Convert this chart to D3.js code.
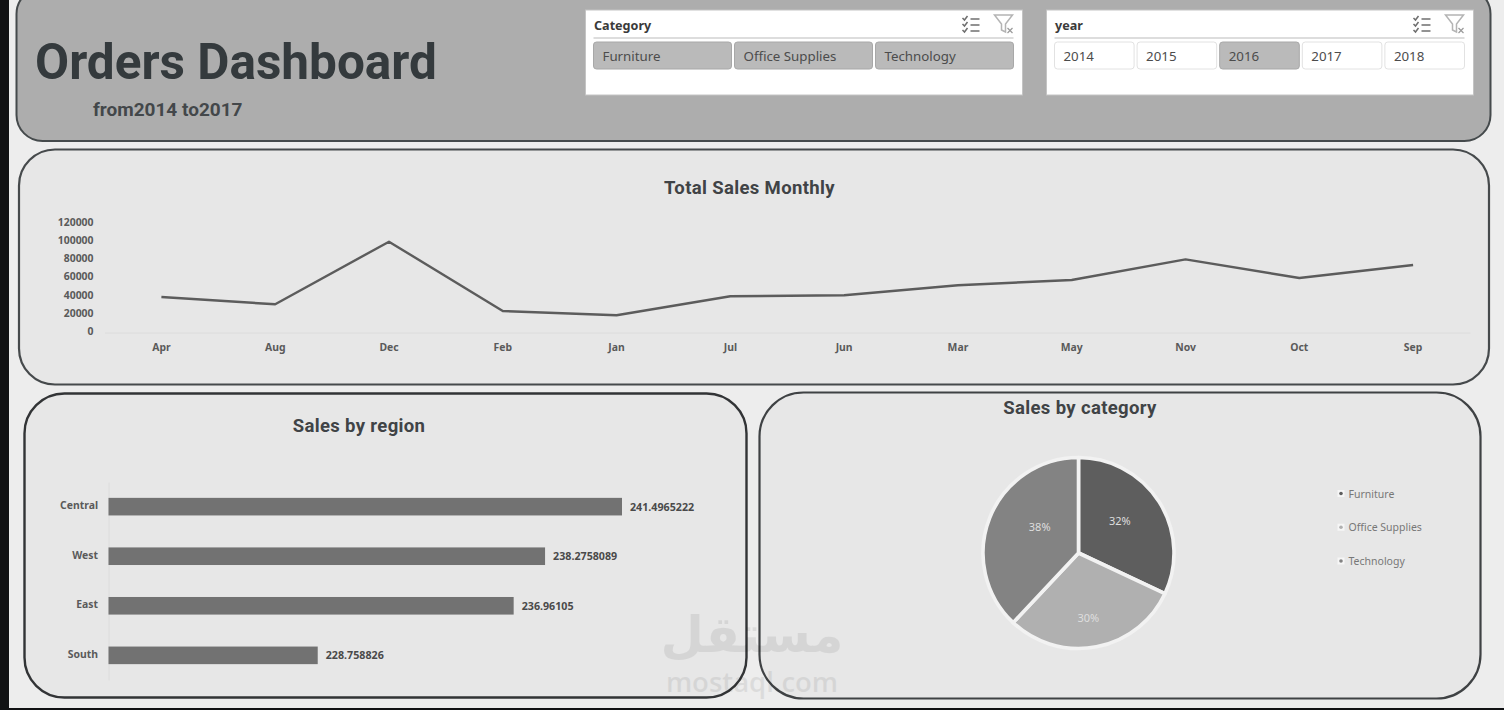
<!DOCTYPE html>
<html>
<head>
<meta charset="utf-8">
<title>Orders Dashboard</title>
<script src="https://cdn.jsdelivr.net/npm/d3@7/dist/d3.min.js"></script>
<style>
  html, body { margin: 0; padding: 0; background: #111214; overflow: hidden; }
  svg { display: block; }
  text { font-family: "Noto Sans", sans-serif; }
  .axis text { font-family: "Noto Sans", sans-serif; font-weight: 700; font-size: 10.4px; fill: #5a5a5a; }
  .chart-title { font-family: Roboto, sans-serif; font-weight: 700; font-size: 18.5px; fill: #404346; text-anchor: middle; dominant-baseline: central; letter-spacing: .35px; }
</style>
</head>
<body>
<svg id="dash" width="1504" height="710"></svg>
<script>
// Slicer contents
const categoryOptions = ["Furniture", "Office Supplies", "Technology"];
const yearOptions = ["2014", "2015", "2016", "2017", "2018"];
const selectedYears = ["2016"];

// Monthly sales, in the alphabetical month order the pivot produced
const months = ["Apr", "Aug", "Dec", "Feb", "Jan", "Jul", "Jun", "Mar", "May", "Nov", "Oct", "Sep"];
const monthlySales = [39000, 31000, 99800, 23600, 18900, 39800, 40900, 52000, 57700, 80400, 59900, 74200];
const salesTicks = [0, 20000, 40000, 60000, 80000, 100000, 120000];

// Sales by region
const regions = ["Central", "West", "East", "South"];
const regionSales = [241.4965222, 238.2758089, 236.96105, 228.758826];
const regionAxisStart = 220;
const regionLabels = ["241.4965222", "238.2758089", "236.96105", "228.758826"];

// Share of sales by category
const categories = ["Furniture", "Office Supplies", "Technology"];
const categoryShare = [32, 30, 38];
const categoryColors = ["#5e5e5e", "#b0b0b0", "#838383"];

const svg = d3.select("#dash");

// Page backdrop: pale sheet inside the dark window frame
svg.append("rect").attr("x", 9).attr("y", 0).attr("width", 1495).attr("height", 708).attr("fill", "#ededed");

function panel(x, y, w, h, r, fill, stroke, sw) {
  svg.append("rect").attr("x", x).attr("y", y).attr("width", w).attr("height", h)
    .attr("rx", r).attr("ry", r).attr("fill", fill).attr("stroke", stroke).attr("stroke-width", sw);
}
panel(16.5, -12, 1474, 153, 26, "#adadad", "#454a4c", 2);
panel(19, 149.5, 1470, 235, 36, "#e7e7e7", "#464a4c", 2.2);
panel(24.5, 393.5, 722, 304, 40, "#e7e7e7", "#323436", 2.4);
panel(759.5, 392.5, 721, 306, 44, "#e7e7e7", "#3f4244", 2.2);

// Header text
svg.append("text").attr("x", 35).attr("y", 79).attr("font-size", 49.5).attr("font-weight", 700)
  .style("font-family", "Roboto").attr("fill", "#343a3d").text("Orders Dashboard");
svg.append("text").attr("x", 93).attr("y", 115.5).attr("font-size", 19).attr("font-weight", 700)
  .style("font-family", "Roboto").attr("fill", "#43474a").text("from2014 to2017");

// Slicer widgets
function slicer(x, w, title, options, isOn) {
  const g = svg.append("g");
  g.append("rect").attr("x", x).attr("y", 10).attr("width", w).attr("height", 85).attr("fill", "#ffffff")
    .attr("stroke", "#c4c4c4").attr("stroke-width", 1);
  g.append("text").attr("x", x + 8.5).attr("y", 29.5).attr("font-size", 12.6).attr("font-weight", 700)
    .attr("fill", "#3a3a3a").text(title);
  g.append("line").attr("x1", x + 8).attr("x2", x + w - 9).attr("y1", 38).attr("y2", 38)
    .attr("stroke", "#d2d2d2").attr("stroke-width", 1.5);

  const step = (w - 17 + 3) / options.length;
  const btn = g.selectAll("g.btn").data(options).join("g").attr("class", "btn")
    .attr("transform", (d, i) => `translate(${x + 8 + i * step},42)`);
  btn.append("rect").attr("width", step - 3).attr("height", 27).attr("rx", 3)
    .attr("fill", d => isOn(d) ? "#bababa" : "#ffffff")
    .attr("stroke", d => isOn(d) ? "#a8a8a8" : "#e2e2e2").attr("stroke-width", 1);
  btn.append("text").attr("x", 9).attr("y", 19).attr("font-size", 13.3).attr("fill", "#4c4c4c").text(d => d);

  // Multi-select and clear-filter icons
  const ix = x + w - 60, iy = 16;
  const icon = g.append("g").attr("transform", `translate(${ix},${iy})`)
    .attr("fill", "none").attr("stroke", "#6e6e6e").attr("stroke-width", 1.5);
  [2, 8, 14].forEach(y => {
    icon.append("path").attr("d", `M0 ${y}l2 2l3 -4`);
    icon.append("line").attr("x1", 8).attr("x2", 17).attr("y1", y + 1).attr("y2", y + 1);
  });
  const clear = g.append("g").attr("transform", `translate(${ix + 32},${iy - 1})`).attr("fill", "none");
  clear.append("path").attr("d", "M0 0H18L11 9V17L7 15V9Z").attr("stroke", "#b4b4b4").attr("stroke-width", 1.5);
  clear.append("path").attr("d", "M13 13l5 5M18 13l-5 5").attr("stroke", "#9a9a9a").attr("stroke-width", 1.2);
}
slicer(585.5, 437, "Category", categoryOptions, () => true);
slicer(1046.5, 427, "year", yearOptions, d => selectedYears.includes(d));

// Total Sales Monthly: line over a category axis
const xMonth = d3.scaleBand().domain(months).range([104.5, 1470]);
const ySales = d3.scaleLinear().domain([0, 120000]).range([332.5, 223.3]);

svg.append("text").attr("class", "chart-title").attr("x", 749.5).attr("y", 188).text("Total Sales Monthly");

svg.append("g").attr("class", "axis").attr("transform", "translate(0,332.5)")
  .call(d3.axisBottom(xMonth).tickSize(0).tickPadding(11))
  .call(g => g.select(".domain").attr("stroke", "#dcdcdc"));
svg.append("g").attr("class", "axis").attr("transform", "translate(104.5,0)")
  .call(d3.axisLeft(ySales).tickValues(salesTicks).tickFormat(d3.format("d")).tickSize(0).tickPadding(11))
  .call(g => g.select(".domain").remove())
  .call(g => g.selectAll("text").attr("dy", "0.2em"));

const salesLine = d3.line()
  .x((d, i) => xMonth(months[i]) + xMonth.bandwidth() / 2)
  .y(d => ySales(d));
svg.append("path").datum(monthlySales).attr("d", salesLine)
  .attr("fill", "none").attr("stroke", "#5c5c5c").attr("stroke-width", 2.4).attr("stroke-linejoin", "round");

// Sales by region: horizontal bars on a truncated axis
const yRegion = d3.scaleBand().domain(regions).range([482, 680]).paddingInner(0.645).paddingOuter(0.32);
const xRegion = d3.scaleLinear().domain([regionAxisStart, regionSales[0]]).range([108.5, 622]);

svg.append("text").attr("class", "chart-title").attr("x", 359).attr("y", 426).text("Sales by region");

svg.append("g").attr("class", "axis").attr("transform", "translate(108.5,0)")
  .call(d3.axisLeft(yRegion).tickSize(0).tickPadding(10.5))
  .call(g => g.select(".domain").attr("stroke", "#dcdcdc"))
  .call(g => g.selectAll("text").attr("dy", "0.22em"));

svg.selectAll("rect.bar").data(regionSales).join("rect").attr("class", "bar")
  .attr("x", xRegion(regionAxisStart))
  .attr("y", (d, i) => yRegion(regions[i]))
  .attr("width", d => xRegion(d) - xRegion(regionAxisStart))
  .attr("height", yRegion.bandwidth())
  .attr("fill", "#727272");

svg.selectAll("text.bar-label").data(regionSales).join("text").attr("class", "bar-label")
  .attr("x", d => xRegion(d) + 8)
  .attr("y", (d, i) => yRegion(regions[i]) + yRegion.bandwidth() / 2)
  .attr("dominant-baseline", "central")
  .attr("font-size", 10.7).attr("font-weight", 700).attr("fill", "#4a4a4a")
  .text((d, i) => regionLabels[i]);

// Sales by category: pie with best-fit style label offsets
svg.append("text").attr("class", "chart-title").attr("x", 1080).attr("y", 408).text("Sales by category");

const pieCenter = [1078.5, 553];
const pieRadius = 95.5;
const arcs = d3.pie().sort(null)(categoryShare);
const arcGen = d3.arc().innerRadius(0).outerRadius(pieRadius);
const labelArc = d3.arc().innerRadius(pieRadius * 0.55).outerRadius(pieRadius * 0.55);
const labelNudge = [[-3, -4], [0, 13], [10, -7]];

const pieG = svg.append("g").attr("transform", `translate(${pieCenter})`);
pieG.selectAll("path").data(arcs).join("path")
  .attr("d", arcGen).attr("fill", (d, i) => categoryColors[i])
  .attr("stroke", "#f2f2f2").attr("stroke-width", 3.6).attr("stroke-linejoin", "round");
pieG.selectAll("text").data(arcs).join("text")
  .attr("x", (d, i) => labelArc.centroid(d)[0] + labelNudge[i][0])
  .attr("y", (d, i) => labelArc.centroid(d)[1] + labelNudge[i][1])
  .attr("text-anchor", "middle").attr("dominant-baseline", "central")
  .attr("font-size", 11).attr("fill", "#dedede")
  .text((d, i) => categoryShare[i] + "%");

const yLegend = d3.scalePoint().domain(categories).range([493.5, 561]);
const legend = svg.selectAll("g.legend").data(categories).join("g").attr("class", "legend")
  .attr("transform", d => `translate(1341,${yLegend(d)})`);
legend.append("rect").attr("x", -3.5).attr("y", -3.5).attr("width", 7).attr("height", 7).attr("fill", "#f6f6f6");
legend.append("circle").attr("r", 1.8).attr("fill", (d, i) => categoryColors[i]);
legend.append("text").attr("x", 7.5).attr("dominant-baseline", "central")
  .attr("font-size", 10.5).attr("fill", "#777777").text(d => d);

// Site mark laid over the lower panels
const mark = svg.append("g").attr("fill", "#000000").attr("opacity", 0.07).attr("text-anchor", "middle");
mark.append("text").attr("x", 752).attr("y", 652).attr("font-size", 50).attr("font-weight", 700)
  .style("font-family", "'DejaVu Sans'").text("مستقل");
mark.append("text").attr("x", 752).attr("y", 692).attr("font-size", 27.5).attr("font-weight", 600)
  .style("font-family", "'Open Sans'").text("mostaql.com");
</script>
</body>
</html>
